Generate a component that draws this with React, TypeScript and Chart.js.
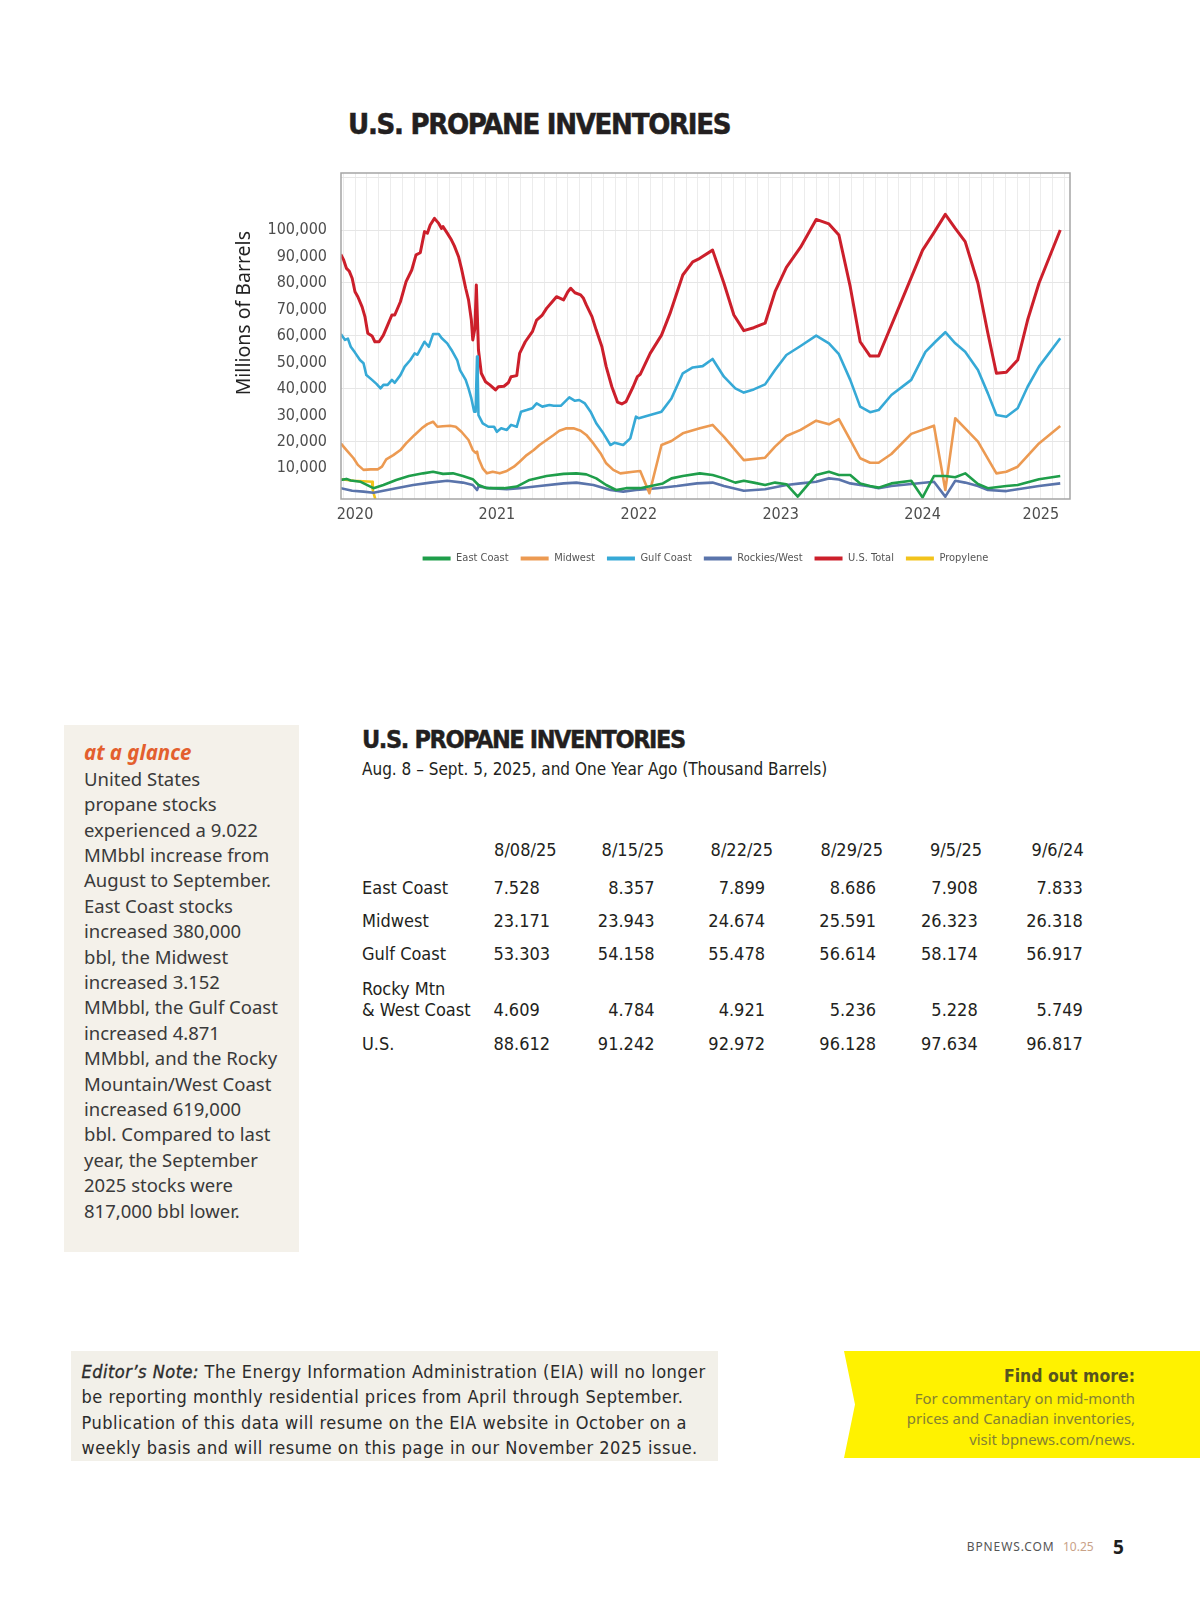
import React, { useEffect, useRef } from 'react';
import { Chart, registerables } from 'chart.js';

Chart.register(...registerables);

// ---------- chart data (x = decimal year, y = thousand barrels) ----------
const eastCoast: [number, number][] = [
  [2019.9, 5600], [2019.94, 6000], [2019.97, 5400], [2020.04, 4900], [2020.13, 2500], [2020.2, 3700],
  [2020.29, 5600], [2020.38, 7100], [2020.48, 8100], [2020.55, 8700], [2020.62, 7900], [2020.69, 8100],
  [2020.76, 7100], [2020.83, 5900], [2020.87, 3700], [2020.93, 2500], [2021.05, 2500], [2021.14, 3100],
  [2021.23, 5600], [2021.35, 7100], [2021.47, 7900], [2021.56, 8100], [2021.63, 7700], [2021.7, 6200],
  [2021.77, 3700], [2021.84, 1800], [2021.91, 2500], [2022.01, 2500], [2022.17, 4300], [2022.23, 6200],
  [2022.31, 7100], [2022.43, 8100], [2022.52, 7500], [2022.6, 6200], [2022.68, 4600], [2022.74, 5300],
  [2022.81, 4600], [2022.89, 3700], [2022.96, 4600], [2023.04, 4000], [2023.12, -700], [2023.25, 7500],
  [2023.34, 8700], [2023.41, 7500], [2023.49, 7500], [2023.56, 4300], [2023.63, 3300], [2023.69, 2700],
  [2023.78, 4300], [2023.92, 5300], [2024.0, -1000], [2024.08, 7100], [2024.16, 7100], [2024.23, 6600],
  [2024.3, 8100], [2024.39, 4100], [2024.46, 2500], [2024.59, 3300], [2024.67, 3700], [2024.82, 5900],
  [2024.97, 7100],
];

const midwest: [number, number][] = [
  [2019.9, 19400], [2019.94, 16900], [2019.99, 13800], [2020.02, 11300], [2020.06, 9400], [2020.11, 9600],
  [2020.16, 9600], [2020.19, 10600], [2020.22, 13400], [2020.27, 15000], [2020.32, 16900], [2020.36, 19400],
  [2020.42, 22600], [2020.47, 25100], [2020.51, 26700], [2020.55, 27600], [2020.58, 25700], [2020.62, 25900],
  [2020.67, 26100], [2020.71, 25700], [2020.75, 23800], [2020.8, 20700], [2020.83, 16900], [2020.85, 15800],
  [2020.86, 16300], [2020.87, 13800], [2020.9, 10000], [2020.93, 8100], [2020.97, 8700], [2021.02, 8100],
  [2021.07, 9000], [2021.12, 10600], [2021.16, 12500], [2021.21, 15000], [2021.26, 16900], [2021.3, 18800],
  [2021.35, 20700], [2021.4, 22600], [2021.44, 24200], [2021.49, 25100], [2021.54, 25100], [2021.59, 24200],
  [2021.63, 22600], [2021.68, 19400], [2021.73, 15700], [2021.77, 11900], [2021.82, 9400], [2021.87, 8100],
  [2021.96, 8700], [2022.01, 9000], [2022.075, 600], [2022.16, 18800], [2022.23, 20300], [2022.31, 23200],
  [2022.43, 25100], [2022.52, 26400], [2022.6, 21900], [2022.74, 13100], [2022.89, 14000], [2022.96, 18200],
  [2023.04, 22200], [2023.14, 24500], [2023.25, 28000], [2023.34, 26600], [2023.41, 28600], [2023.49, 20700],
  [2023.56, 13800], [2023.63, 12100], [2023.69, 12100], [2023.78, 15400], [2023.92, 23000], [2024.08, 26100],
  [2024.16, 1800], [2024.23, 28900], [2024.3, 25100], [2024.39, 20100], [2024.52, 8100], [2024.59, 8700],
  [2024.67, 10600], [2024.82, 19400], [2024.97, 26000],
];

const gulfCoast: [number, number][] = [
  [2019.9, 60700], [2019.93, 58500], [2019.95, 59000], [2019.97, 55900], [2020.0, 53700], [2020.035, 50900],
  [2020.06, 49700], [2020.08, 45200], [2020.12, 43400], [2020.153, 41800], [2020.18, 40200], [2020.2, 41500],
  [2020.23, 41500], [2020.26, 43400], [2020.28, 42300], [2020.32, 45200], [2020.35, 48400], [2020.39, 50900],
  [2020.42, 53400], [2020.44, 52900], [2020.49, 57800], [2020.52, 55900], [2020.55, 60700], [2020.59, 60700],
  [2020.61, 59200], [2020.65, 57200], [2020.68, 54700], [2020.72, 50900], [2020.74, 47100], [2020.78, 43400],
  [2020.8, 40200], [2020.82, 36400], [2020.84, 31400], [2020.85, 31400], [2020.86, 52200], [2020.865, 45000],
  [2020.87, 30100], [2020.9, 27000], [2020.94, 25700], [2020.98, 25700], [2021.0, 23800], [2021.03, 25100],
  [2021.07, 24500], [2021.1, 26400], [2021.14, 25700], [2021.17, 31400], [2021.21, 32000], [2021.25, 32700],
  [2021.28, 34500], [2021.32, 33300], [2021.37, 33900], [2021.4, 33600], [2021.45, 33600], [2021.48, 35200],
  [2021.51, 36800], [2021.55, 35500], [2021.58, 35800], [2021.62, 34500], [2021.66, 31400], [2021.7, 27000],
  [2021.75, 23200], [2021.8, 18800], [2021.83, 19700], [2021.89, 18800], [2021.94, 21300], [2021.98, 29500],
  [2022.0, 28900], [2022.08, 30100], [2022.16, 31400], [2022.23, 36400], [2022.31, 45900], [2022.38, 48100],
  [2022.45, 48600], [2022.52, 51300], [2022.6, 44600], [2022.68, 40200], [2022.74, 38600], [2022.81, 39800],
  [2022.89, 41700], [2022.96, 47100], [2023.04, 52800], [2023.14, 56200], [2023.25, 60100], [2023.34, 57200],
  [2023.41, 53100], [2023.49, 43400], [2023.56, 33300], [2023.63, 31200], [2023.69, 32000], [2023.78, 37700],
  [2023.92, 43400], [2024.02, 54000], [2024.09, 57800], [2024.16, 61400], [2024.23, 57200], [2024.3, 54000],
  [2024.39, 47100], [2024.46, 38300], [2024.52, 30100], [2024.59, 29500], [2024.67, 32700], [2024.74, 40800],
  [2024.82, 48400], [2024.97, 59100],
];

const rockiesWest: [number, number][] = [
  [2019.9, 2500], [2019.98, 1500], [2020.06, 1200], [2020.13, 800], [2020.2, 1500], [2020.29, 2500],
  [2020.41, 3700], [2020.53, 4600], [2020.65, 5300], [2020.76, 4600], [2020.83, 3700], [2020.86, 1800],
  [2020.87, 3100], [2020.95, 2500], [2021.07, 2100], [2021.16, 2500], [2021.3, 3300], [2021.47, 4300],
  [2021.56, 4600], [2021.68, 3700], [2021.8, 1800], [2021.89, 1200], [2021.98, 1800], [2022.13, 2500],
  [2022.27, 3300], [2022.41, 4300], [2022.52, 4600], [2022.6, 3300], [2022.74, 1500], [2022.89, 2100],
  [2023.04, 3700], [2023.14, 4300], [2023.25, 4900], [2023.34, 6200], [2023.41, 5800], [2023.49, 4300],
  [2023.63, 3100], [2023.69, 2500], [2023.78, 3300], [2023.92, 4100], [2024.08, 4900], [2024.16, -700],
  [2024.23, 5300], [2024.3, 4600], [2024.39, 3300], [2024.46, 1800], [2024.59, 1400], [2024.67, 2100],
  [2024.82, 3300], [2024.97, 4300],
];

const usTotal: [number, number][] = [
  [2019.9, 90800], [2019.92, 88700], [2019.94, 85500], [2019.96, 84400], [2019.98, 81800], [2020.0, 76700],
  [2020.02, 74800], [2020.05, 71000], [2020.07, 67300], [2020.09, 61000], [2020.12, 60000], [2020.14, 57800],
  [2020.17, 57800], [2020.2, 60300], [2020.23, 64100], [2020.26, 67900], [2020.28, 67900], [2020.32, 72900],
  [2020.36, 80500], [2020.4, 84900], [2020.43, 90600], [2020.46, 91400], [2020.49, 99400], [2020.51, 98800],
  [2020.53, 101900], [2020.56, 104400], [2020.59, 102500], [2020.61, 100600], [2020.62, 101300], [2020.65, 98800],
  [2020.68, 96200], [2020.7, 94000], [2020.73, 89900], [2020.75, 85500], [2020.78, 78000], [2020.8, 73600],
  [2020.82, 66000], [2020.83, 58500], [2020.845, 62900], [2020.855, 79200], [2020.87, 54700], [2020.89, 45900],
  [2020.92, 42700], [2020.95, 41500], [2020.99, 39600], [2021.01, 40800], [2021.05, 41000], [2021.08, 42300],
  [2021.1, 44600], [2021.14, 45000], [2021.16, 53400], [2021.2, 57800], [2021.25, 61600], [2021.28, 66000],
  [2021.32, 67900], [2021.35, 70400], [2021.39, 72900], [2021.42, 74800], [2021.47, 73600], [2021.5, 76700],
  [2021.52, 78000], [2021.55, 76300], [2021.59, 75500], [2021.61, 74200], [2021.63, 71700], [2021.67, 67300],
  [2021.7, 62200], [2021.74, 55900], [2021.77, 48400], [2021.81, 40800], [2021.85, 35000], [2021.88, 34300],
  [2021.91, 35200], [2021.96, 40800], [2021.99, 44600], [2022.01, 45500], [2022.08, 53400], [2022.16, 60300],
  [2022.22, 68500], [2022.31, 83000], [2022.38, 88000], [2022.43, 89300], [2022.52, 92400], [2022.6, 79900],
  [2022.67, 67900], [2022.74, 62000], [2022.81, 63100], [2022.89, 64800], [2022.96, 76700], [2023.04, 85900],
  [2023.14, 93500], [2023.25, 104000], [2023.34, 102300], [2023.41, 98100], [2023.49, 78600], [2023.56, 57800],
  [2023.63, 52400], [2023.69, 52400], [2023.84, 71700], [2024.0, 92400], [2024.08, 99000], [2024.16, 105900],
  [2024.23, 100600], [2024.3, 95600], [2024.39, 79900], [2024.46, 61000], [2024.52, 45900], [2024.59, 46300],
  [2024.67, 50900], [2024.74, 66000], [2024.82, 79900], [2024.97, 100000],
];

const propylene: [number, number][] = [
  [2019.9, 5900], [2019.99, 5300], [2020.12, 4900], [2020.125, 1800], [2020.15, -3000],
];

const seriesNames = ['East Coast', 'Midwest', 'Gulf Coast', 'Rockies/West', 'U.S. Total', 'Propylene'];
const seriesColors = ['#1f9e4a', '#ec9a52', '#36a9d6', '#5a74ab', '#cc1f2b', '#f2c31b'];
const seriesData = [eastCoast, midwest, gulfCoast, rockiesWest, usTotal, propylene];

const yearTickLabels = ['2020', '2021', '2022', '2023', '2024', '2025'];
const yearTickPositions = [2020, 2021, 2022, 2023, 2024, 2024 + 10 / 12];
const yTickValues = [10000, 20000, 30000, 40000, 50000, 60000, 70000, 80000, 90000, 100000, 120000];
const yTickLabelMax = 100000;

// ---------- table data ----------
const tableDates = ['8/08/25', '8/15/25', '8/22/25', '8/29/25', '9/5/25', '9/6/24'];
const tableRegions = ['East Coast', 'Midwest', 'Gulf Coast', 'Rocky Mtn\n& West Coast', 'U.S.'];
const eastCoastRow = ['7.528', '8.357', '7.899', '8.686', '7.908', '7.833'];
const midwestRow = ['23.171', '23.943', '24.674', '25.591', '26.323', '26.318'];
const gulfCoastRow = ['53.303', '54.158', '55.478', '56.614', '58.174', '56.917'];
const rockyRow = ['4.609', '4.784', '4.921', '5.236', '5.228', '5.749'];
const usRow = ['88.612', '91.242', '92.972', '96.128', '97.634', '96.817'];
const tableRows = [eastCoastRow, midwestRow, gulfCoastRow, rockyRow, usRow];

const glanceLines = [
  'United States', 'propane stocks', 'experienced a 9.022', 'MMbbl increase from', 'August to September.',
  'East Coast stocks', 'increased 380,000', 'bbl, the Midwest', 'increased 3.152', 'MMbbl, the Gulf Coast',
  'increased 4.871', 'MMbbl, and the Rocky', 'Mountain/West Coast', 'increased 619,000', 'bbl. Compared to last',
  'year, the September', '2025 stocks were', '817,000 bbl lower.',
];
const noteLines = [
  'The Energy Information Administration (EIA) will no longer',
  'be reporting monthly residential prices from April through September.',
  'Publication of this data will resume on the EIA website in October on a',
  'weekly basis and will resume on this page in our November 2025 issue.',
];
const findLines = ['For commentary on mid-month', 'prices and Canadian inventories,', 'visit bpnews.com/news.'];

// ---------- styling ----------
const COND = '"DejaVu Sans Condensed", "Liberation Sans Narrow", "Arial Narrow", sans-serif';
const SANS = '"Noto Sans", "Open Sans", sans-serif';
const X_MIN = 2019.9013;
const X_MAX = 2025.0387;
const Y_MIN = -1590;
const Y_MAX = 121530;

const framePlugin = {
  id: 'frame',
  afterDatasetsDraw(chart: any) {
    const { ctx, chartArea: a } = chart;
    ctx.save();
    ctx.strokeStyle = '#a5a5a5';
    ctx.lineWidth = 1.5;
    ctx.strokeRect(a.left, a.top, a.right - a.left, a.bottom - a.top);
    ctx.restore();
  },
};

const topFor = (baseline: number, size: number, lh: number, k: number) => baseline - lh / 2 - k * size;

function Txt(props: {
  x?: number; right?: number; base: number; size: number; lh?: number; k?: number; font?: string;
  style?: React.CSSProperties; children: React.ReactNode;
}) {
  const lh = props.lh ?? Math.round(props.size * 1.3);
  const k = props.k ?? 0.346;
  const s: React.CSSProperties = {
    position: 'absolute',
    top: topFor(props.base, props.size, lh, k),
    fontSize: props.size,
    lineHeight: `${lh}px`,
    fontFamily: props.font ?? COND,
    whiteSpace: 'nowrap',
    color: '#231f20',
    ...props.style,
  };
  if (props.right !== undefined) {
    s.right = 1200 - props.right;
    s.textAlign = 'right';
  } else {
    s.left = props.x;
  }
  return <div style={s}>{props.children}</div>;
}

export default function App() {
  const canvasRef = useRef<HTMLCanvasElement>(null);

  useEffect(() => {
    if (!canvasRef.current) return;
    const chart = new Chart(canvasRef.current, {
      type: 'line',
      data: {
        datasets: seriesData.map((d, i) => ({
          label: seriesNames[i],
          data: d.map(([x, y]) => ({ x, y })),
          borderColor: seriesColors[i],
          backgroundColor: seriesColors[i],
          borderWidth: i === 4 ? 3 : 2.6,
          pointRadius: 0,
          tension: 0,
          fill: false,
          borderJoinStyle: 'round' as const,
        })),
      },
      options: {
        animation: false,
        responsive: false,
        devicePixelRatio: 1,
        events: [],
        layout: { padding: { left: 0, top: 13, right: 20, bottom: 6 } },
        scales: {
          x: {
            type: 'linear',
            min: X_MIN,
            max: X_MAX,
            afterBuildTicks: (scale: any) => {
              scale.ticks = Array.from({ length: 62 }, (_, i) => ({ value: 2020 + (i - 1) / 12 }));
            },
            afterFit: (scale: any) => {
              scale.height = 42;
              scale.paddingLeft = 0;
              scale.paddingRight = 0;
            },
            ticks: {
              autoSkip: false,
              maxRotation: 0,
              minRotation: 0,
              padding: 6,
              color: '#4d4d4d',
              font: { family: COND, size: 16 },
              callback: (value: any) => {
                const i = yearTickPositions.findIndex((p) => Math.abs(p - Number(value)) < 0.02);
                return i >= 0 ? yearTickLabels[i] : '';
              },
            },
            grid: { color: '#ececec', lineWidth: 1, drawTicks: false },
            border: { display: false },
          },
          y: {
            type: 'linear',
            min: Y_MIN,
            max: Y_MAX,
            afterBuildTicks: (scale: any) => {
              scale.ticks = yTickValues.map((v) => ({ value: v }));
            },
            afterFit: (scale: any) => {
              scale.width = 121;
              scale.paddingTop = 0;
              scale.paddingBottom = 0;
            },
            ticks: {
              padding: 14,
              color: '#4d4d4d',
              font: { family: COND, size: 16 },
              callback: (value: any) => (Number(value) > yTickLabelMax ? '' : Number(value).toLocaleString('en-US')),
            },
            grid: {
              color: (ctx: any) => (ctx.tick && ctx.tick.value % 20000 === 0 ? '#e6e6e6' : 'rgba(0,0,0,0)'),
              lineWidth: 1,
              drawTicks: false,
            },
            border: { display: false },
            title: {
              display: true,
              text: '         Millions of Barrels',
              color: '#222222',
              font: { family: SANS, size: 19.5 },
              padding: { top: 13, bottom: 0 },
            },
          },
        },
        plugins: {
          legend: {
            display: true,
            position: 'bottom',
            fullSize: false,
            labels: {
              boxWidth: 28,
              boxHeight: 4,
              padding: 12,
              color: '#555555',
              font: { family: COND, size: 11 },
              generateLabels: (c: any) =>
                (Chart.defaults.plugins.legend.labels as any).generateLabels(c).map((it: any) => ({ ...it, lineWidth: 0 })),
            },
          },
          tooltip: { enabled: false },
        },
      },
      plugins: [framePlugin],
    } as any);
    return () => chart.destroy();
  }, []);

  const headRights = [556.5, 664, 773, 883, 982, 1083.7];
  const valRights = [0, 654.5, 765, 876, 977.7, 1082.8];
  const rowBases = [894, 927, 960.5, 1016, 1050];

  return (
    <div style={{ position: 'absolute', left: 0, top: 0, width: 1200, height: 1598, background: '#ffffff', overflow: 'hidden' }}>
      {/* chart title */}
      <Txt x={348} base={134.3} size={29} lh={34} style={{ fontWeight: 700, letterSpacing: '-1.3px', WebkitTextStroke: '0.5px #231f20' }}>
        U.S. PROPANE INVENTORIES
      </Txt>

      <canvas ref={canvasRef} width={870} height={420} style={{ position: 'absolute', left: 220, top: 160, width: 870, height: 420 }} />

      {/* sidebar */}
      <div style={{ position: 'absolute', left: 64, top: 725, width: 235, height: 527, background: '#f4f1ea' }} />
      <Txt x={84} base={760} size={20.5} lh={26} k={0.388} font={SANS} style={{ fontWeight: 700, fontStyle: 'italic', color: '#e35f2e' }}>
        at a glance
      </Txt>
      {glanceLines.map((t, i) => (
        <Txt key={i} x={84} base={785.5 + i * 25.4} size={18.5} lh={25} k={0.388} font={SANS} style={{ color: '#3a3a3a' }}>
          {t}
        </Txt>
      ))}

      {/* table */}
      <Txt x={362} base={749} size={25} lh={30} style={{ fontWeight: 700, letterSpacing: '-1.4px', WebkitTextStroke: '0.4px #231f20' }}>
        U.S. PROPANE INVENTORIES
      </Txt>
      <Txt x={362} base={775} size={17} lh={20}>
        Aug. 8 – Sept. 5, 2025, and One Year Ago (Thousand Barrels)
      </Txt>
      {tableDates.map((d, i) => (
        <Txt key={d} right={headRights[i]} base={856} size={18} lh={22}>
          {d}
        </Txt>
      ))}
      {tableRegions.map((r, ri) => {
        const parts = r.split('\n');
        return parts.map((p, pi) => (
          <Txt key={`${ri}-${pi}`} x={362} base={rowBases[ri] - (parts.length - 1 - pi) * 21} size={18} lh={22}>
            {p}
          </Txt>
        ));
      })}
      {tableRows.map((row, ri) =>
        row.map((v, ci) =>
          ci === 0 ? (
            <Txt key={`${ri}-${ci}`} x={493.4} base={rowBases[ri]} size={18} lh={22}>
              {v}
            </Txt>
          ) : (
            <Txt key={`${ri}-${ci}`} right={valRights[ci]} base={rowBases[ri]} size={18} lh={22}>
              {v}
            </Txt>
          ),
        ),
      )}

      {/* editor's note */}
      <div style={{ position: 'absolute', left: 71, top: 1351, width: 647, height: 110, background: '#f2f0e9' }} />
      {noteLines.map((t, i) => (
        <Txt key={i} x={81.5} base={1377.5 + i * 25.5} size={18} lh={25} style={{ color: '#2b2b2b', letterSpacing: '0.5px' }}>
          {i === 0 ? (
            <>
              <span style={{ fontStyle: 'italic', WebkitTextStroke: '0.35px #2b2b2b' }}>Editor’s Note:</span> {t}
            </>
          ) : (
            t
          )}
        </Txt>
      ))}

      {/* find out more */}
      <div
        style={{
          position: 'absolute', left: 844, top: 1351, width: 356, height: 107, background: '#fff200',
          clipPath: 'polygon(0 0, 100% 0, 100% 100%, 0 100%, 11px 50%)',
        }}
      />
      <Txt right={1135} base={1382} size={17.5} lh={22} style={{ fontWeight: 700, color: '#57541f' }}>
        Find out more:
      </Txt>
      {findLines.map((t, i) => (
        <Txt key={i} right={1135} base={1403.5 + i * 20.5} size={14.9} lh={20} k={0.388} font={SANS} style={{ color: '#858133' }}>
          {t}
        </Txt>
      ))}

      {/* footer */}
      <Txt x={966.7} base={1552} size={12} lh={16} k={0.388} font={SANS} style={{ color: '#555555', letterSpacing: '0.9px' }}>
        BPNEWS.COM
      </Txt>
      <Txt x={1063} base={1552} size={12} lh={16} k={0.388} font={SANS} style={{ color: '#c9a288' }}>
        10.25
      </Txt>
      <Txt x={1113} base={1554} size={19} lh={22} k={0.388} font={SANS} style={{ color: '#1e1e1e', fontWeight: 700 }}>
        5
      </Txt>
    </div>
  );
}
